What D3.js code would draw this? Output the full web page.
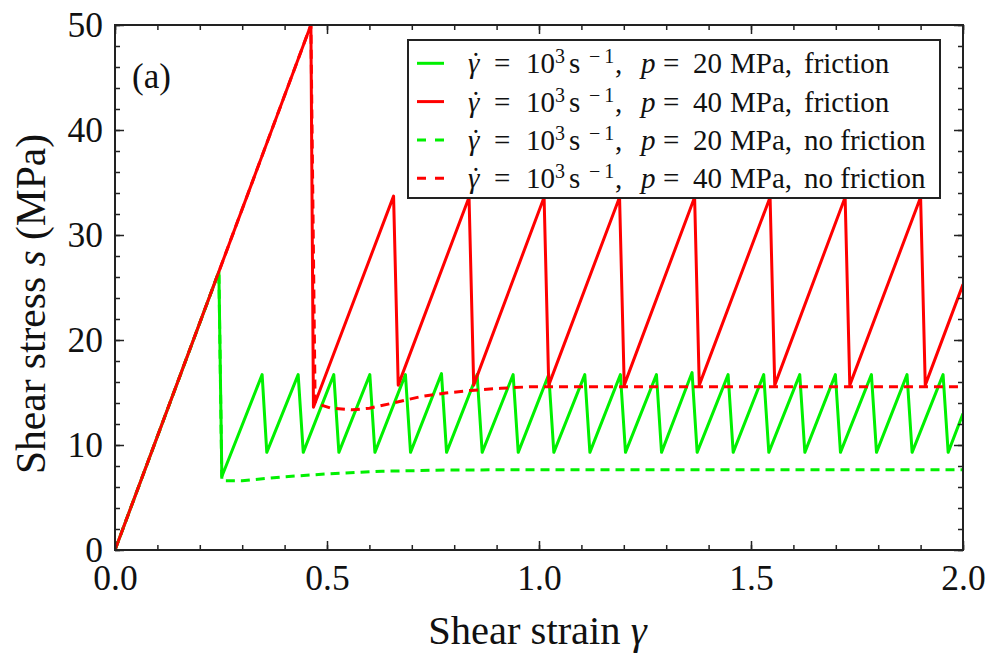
<!DOCTYPE html>
<html>
<head>
<meta charset="utf-8">
<script src="https://cdn.jsdelivr.net/npm/d3@7"></script>
<style>
  body { margin: 0; background: #fff; }
</style>
</head>
<body>
<svg id="chart" width="991" height="653"></svg>
<script>
// shear strain / shear stress (MPa) pairs
var greenFriction = [
  [0, 0], [0.245, 26.5], [0.252, 7.0],
  [0.347, 16.7], [0.358, 9.3], [0.432, 16.7], [0.444, 9.3],
  [0.516, 16.7], [0.528, 9.3], [0.601, 16.7], [0.613, 9.3],
  [0.685, 16.7], [0.697, 9.3], [0.770, 16.8], [0.782, 9.3],
  [0.854, 16.7], [0.866, 9.3], [0.939, 16.7], [0.951, 9.3],
  [1.023, 16.7], [1.035, 9.3], [1.108, 16.7], [1.120, 9.3],
  [1.192, 16.7], [1.204, 9.3], [1.277, 16.7], [1.289, 9.3],
  [1.361, 16.9], [1.373, 9.3], [1.446, 16.7], [1.458, 9.3],
  [1.530, 16.7], [1.542, 9.3], [1.615, 16.7], [1.627, 9.3],
  [1.699, 16.7], [1.711, 9.3], [1.784, 16.7], [1.796, 9.3],
  [1.868, 16.7], [1.880, 9.3], [1.953, 16.7], [1.965, 9.3],
  [2.0, 13.0]
]
var redFriction = [
  [0, 0], [0.462, 50], [0.468, 13.6],
  [0.657, 33.7], [0.668, 15.7], [0.835, 33.6], [0.846, 15.7],
  [1.012, 33.6], [1.023, 15.7], [1.190, 33.6], [1.201, 15.7],
  [1.367, 33.6], [1.378, 15.7], [1.545, 33.6], [1.556, 15.7],
  [1.722, 33.6], [1.733, 15.7], [1.900, 33.6], [1.911, 15.7],
  [2.0, 25.3]
]
var greenNoFriction = [
  [0, 0], [0.245, 26.5], [0.252, 6.6], [0.30, 6.6], [0.40, 6.98],
  [0.50, 7.25], [0.63, 7.5], [0.79, 7.62], [1.0, 7.65], [2.0, 7.65]
]
var redNoFriction = [
  [0, 0], [0.462, 50], [0.472, 14.0], [0.51, 13.5], [0.56, 13.35],
  [0.60, 13.5], [0.656, 14.0], [0.72, 14.6], [0.78, 14.95], [0.84, 15.2],
  [0.91, 15.4], [0.98, 15.55], [2.0, 15.55]
]

var xMajor = [0, 0.5, 1.0, 1.5, 2.0],
    yMajor = [0, 10, 20, 30, 40, 50]

var series = [
  { data: greenFriction,   color: "#00f000", dash: null,  p: "20", label: "friction" },
  { data: redFriction,     color: "#ff0000", dash: null,  p: "40", label: "friction" },
  { data: greenNoFriction, color: "#00f000", dash: "9,6", p: "20", label: "no friction" },
  { data: redNoFriction,   color: "#ff0000", dash: "9,6", p: "40", label: "no friction" }
]

var margin = {top: 25, right: 28, bottom: 103, left: 115},
    width  = 991 - margin.left - margin.right,
    height = 653 - margin.top - margin.bottom

var svg = d3.select("#chart")
var g = svg.append("g")
  .attr("transform", "translate(" + margin.left + "," + margin.top + ")")

var x = d3.scaleLinear().domain([0, 2]).range([0, width])
var y = d3.scaleLinear().domain([0, 50]).range([height, 0])

svg.append("defs").append("clipPath").attr("id", "plotclip")
  .append("rect").attr("x", 0).attr("y", -1).attr("width", width).attr("height", height + 2)

// curves
var line = d3.line()
  .x(d => x(d[0]))
  .y(d => y(d[1]))

g.append("g").attr("clip-path", "url(#plotclip)")
  .selectAll("path")
  .data(series)
  .enter().append("path")
    .attr("fill", "none")
    .attr("stroke", d => d.color)
    .attr("stroke-width", 3)
    .attr("stroke-linejoin", "round")
    .attr("stroke-dasharray", d => d.dash)
    .attr("d", d => line(d.data))

// frame ticks, pointing inwards on all four sides
var xMinor = d3.range(0, 2.001, 0.1),
    yMinor = d3.range(0, 50.1, 2)

function frameAxis(axis, ticks, size, labels) {
  var a = axis.tickValues(ticks).tickSize(-size)
  if(!labels) a.tickFormat("")
  return a
}

g.append("g").attr("transform", "translate(0," + height + ")")
  .call(frameAxis(d3.axisBottom(x), xMinor, 5, false))
g.append("g").attr("transform", "translate(0," + height + ")")
  .call(frameAxis(d3.axisBottom(x), xMajor, 9, true).tickFormat(d3.format(".1f")).tickPadding(15))
g.append("g").call(frameAxis(d3.axisTop(x), xMinor, 5, false))
g.append("g").call(frameAxis(d3.axisTop(x), xMajor, 9, false))

g.append("g").call(frameAxis(d3.axisLeft(y), yMinor, 5, false))
g.append("g").call(frameAxis(d3.axisLeft(y), yMajor, 9, true).tickFormat(d3.format("d")).tickPadding(12))
g.append("g").attr("transform", "translate(" + width + ",0)")
  .call(frameAxis(d3.axisRight(y), yMinor, 5, false))
g.append("g").attr("transform", "translate(" + width + ",0)")
  .call(frameAxis(d3.axisRight(y), yMajor, 9, false))

g.selectAll(".domain").remove()
g.selectAll(".tick line").attr("stroke", "#222").attr("stroke-width", 1.5)
g.selectAll(".tick text").attr("font-size", 35.5)

g.append("rect")
  .attr("width", width).attr("height", height)
  .attr("fill", "none").attr("stroke", "#222").attr("stroke-width", 2)

// panel tag
g.append("text").attr("x", 17).attr("y", 63).attr("font-size", 35).text("(a)")

// axis titles
var xt = svg.append("text")
  .attr("x", margin.left + width / 2 - 1.5).attr("y", 644)
  .attr("text-anchor", "middle").attr("font-size", 40.5)
xt.append("tspan").text("Shear strain ")
xt.append("tspan").attr("font-style", "italic").text("γ")

var yt = svg.append("text")
  .attr("transform", "translate(45,304) rotate(-90)")
  .attr("text-anchor", "middle").attr("font-size", 41.5)
yt.append("tspan").text("Shear stress ")
yt.append("tspan").attr("font-style", "italic").text("s")
yt.append("tspan").text(" (MPa)")

// legend
var lg = svg.append("g").attr("transform", "translate(408,40)")
lg.append("rect").attr("width", 532).attr("height", 158)
  .attr("fill", "#fff").attr("stroke", "#222").attr("stroke-width", 2)

series.forEach((s, i) => {
  var cy = 23.3 + i * 38.3
  lg.append("line")
    .attr("x1", 9).attr("x2", 36).attr("y1", cy).attr("y2", cy)
    .attr("stroke", s.color).attr("stroke-width", 3)
    .attr("stroke-dasharray", s.dash ? "9,9" : null)
  var t = lg.append("text").attr("y", cy + 10).attr("font-size", 29)
  // pieces of the math label, each placed where it sits in the figure
  var pieces = [
    { x: 60,  txt: "γ", it: true },
    { x: 63,  txt: "\u02D9" },
    { x: 86,  txt: "=" },
    { x: 118, txt: "10" },
    { x: 147, txt: "3", sup: true },
    { x: 161, txt: "s" },
    { x: 181, txt: "\u2212\u20091", sup: true },
    { x: 207, txt: "," },
    { x: 233, txt: "p", it: true },
    { x: 255, txt: "=" },
    { x: 285, txt: s.p },
    { x: 322, txt: "MPa," },
    { x: 396, txt: s.label }
  ]
  pieces.forEach(pc => {
    t.append("tspan")
      .attr("x", pc.x)
      .attr("y", pc.sup ? cy : cy + 10)
      .attr("font-size", pc.sup ? 20 : null)
      .attr("font-style", pc.it ? "italic" : null)
      .text(pc.txt)
  })
})

svg.selectAll("text")
  .style("font-family", "Liberation Serif")
  .style("fill", "#111")
</script>
</body>
</html>
